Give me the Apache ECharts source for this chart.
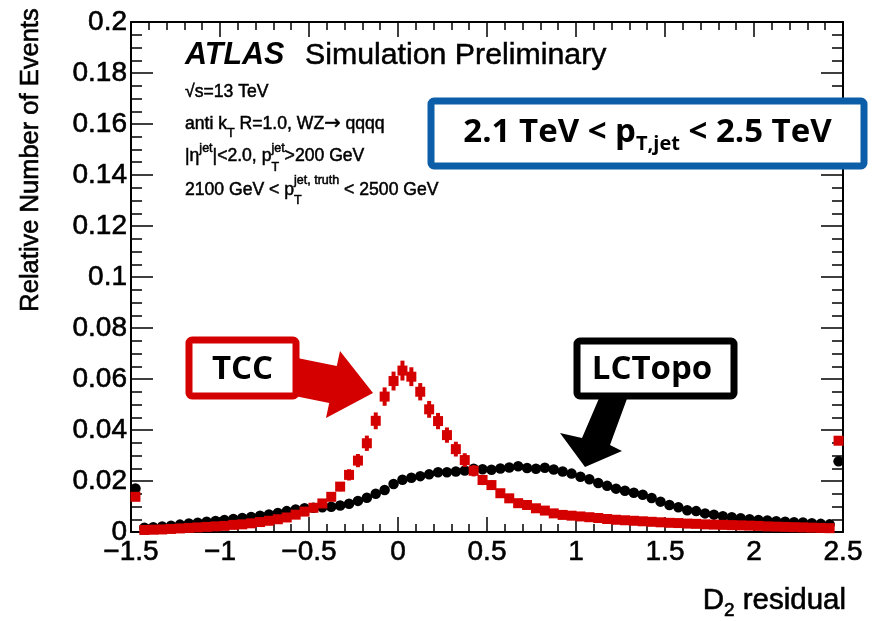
<!DOCTYPE html>
<html>
<head>
<meta charset="utf-8">
<script src="https://cdn.jsdelivr.net/npm/echarts@6/dist/echarts.min.js"></script>
<style>
  html, body { margin: 0; padding: 0; background: #fff; }
  #chart { width: 873px; height: 621px; }
</style>
</head>
<body>
<div id="chart"></div>
<script>
// D2 residual bin centres (bin width 0.05); first and last bins hold under/overflow
const binCenters = [
  -1.475,-1.425,-1.375,-1.325,-1.275,-1.225,-1.175,-1.125,-1.075,-1.025,
  -0.975,-0.925,-0.875,-0.825,-0.775,-0.725,-0.675,-0.625,-0.575,-0.525,
  -0.475,-0.425,-0.375,-0.325,-0.275,-0.225,-0.175,-0.125,-0.075,-0.025,
   0.025, 0.075, 0.125, 0.175, 0.225, 0.275, 0.325, 0.375, 0.425, 0.475,
   0.525, 0.575, 0.625, 0.675, 0.725, 0.775, 0.825, 0.875, 0.925, 0.975,
   1.025, 1.075, 1.125, 1.175, 1.225, 1.275, 1.325, 1.375, 1.425, 1.475,
   1.525, 1.575, 1.625, 1.675, 1.725, 1.775, 1.825, 1.875, 1.925, 1.975,
   2.025, 2.075, 2.125, 2.175, 2.225, 2.275, 2.325, 2.375, 2.425, 2.475
];

// TCC jets: relative number of events per bin
const tccValues = [
  0.0138,0.0008,0.0009,0.0010,0.0012,0.0014,0.0016,0.0018,0.0020,0.0022,
  0.0024,0.0028,0.0030,0.0034,0.0039,0.0044,0.0050,0.0057,0.0068,0.0080,
  0.0095,0.0112,0.0138,0.0178,0.0224,0.0280,0.0348,0.0436,0.0531,0.0592,
  0.0633,0.0609,0.0550,0.0481,0.0435,0.0380,0.0325,0.0282,0.0240,0.0204,
  0.0184,0.0152,0.0132,0.0113,0.0106,0.0093,0.0084,0.0073,0.0067,0.0064,
  0.0061,0.0058,0.0055,0.0051,0.0048,0.0046,0.0044,0.0042,0.0040,0.0038,
  0.0036,0.0035,0.0033,0.0032,0.0030,0.0029,0.0028,0.0027,0.0026,0.0025,
  0.0024,0.0022,0.0021,0.0020,0.0019,0.0018,0.0017,0.0016,0.0015,0.0358
];

// TCC statistical uncertainties per bin
const tccErrors = [
  0.0010,0.0006,0.0006,0.0006,0.0006,0.0006,0.0006,0.0006,0.0006,0.0006,
  0.0006,0.0007,0.0007,0.0007,0.0008,0.0008,0.0008,0.0009,0.0009,0.0010,
  0.0011,0.0012,0.0015,0.0018,0.0022,0.0026,0.0030,0.0033,0.0036,0.0037,
  0.0039,0.0037,0.0034,0.0033,0.0032,0.0030,0.0029,0.0027,0.0022,0.0020,
  0.0018,0.0016,0.0015,0.0014,0.0013,0.0012,0.0011,0.0010,0.0010,0.0010,
  0.0009,0.0009,0.0009,0.0009,0.0008,0.0008,0.0008,0.0008,0.0008,0.0008,
  0.0007,0.0007,0.0007,0.0007,0.0007,0.0007,0.0007,0.0006,0.0006,0.0006,
  0.0006,0.0006,0.0006,0.0006,0.0006,0.0006,0.0006,0.0006,0.0006,0.0015
];

// LCTopo jets: relative number of events per bin
const lcTopoValues = [
  0.0171,0.0017,0.0019,0.0022,0.0025,0.0029,0.0033,0.0036,0.0040,0.0043,
  0.0047,0.0051,0.0055,0.0059,0.0064,0.0069,0.0075,0.0082,0.0088,0.0093,
  0.0095,0.0097,0.0099,0.0104,0.0111,0.0122,0.0134,0.0150,0.0165,0.0188,
  0.0205,0.0213,0.0219,0.0226,0.0234,0.0234,0.0237,0.0241,0.0248,0.0246,
  0.0244,0.0249,0.0253,0.0258,0.0251,0.0248,0.0252,0.0245,0.0237,0.0229,
  0.0217,0.0207,0.0192,0.0181,0.0170,0.0162,0.0154,0.0146,0.0133,0.0119,
  0.0106,0.0097,0.0085,0.0082,0.0073,0.0068,0.0062,0.0058,0.0054,0.0050,
  0.0047,0.0045,0.0042,0.0040,0.0038,0.0037,0.0034,0.0032,0.0030,0.0277
];

const RED = '#d40000';
const BLUE = '#0d5ea8';
const SANS = '"Liberation Sans", Arial, Helvetica, sans-serif';
const BOXFONT = '"Open Sans", Lato, sans-serif';
const ARROWFONT = '"DejaVu Sans", sans-serif';

const measureCtx = document.createElement('canvas').getContext('2d');
function fontStr(size, weight, style, family) {
  return `${style || 'normal'} ${weight || 'normal'} ${size}px ${family}`;
}
function textWidth(str, font) {
  measureCtx.font = font;
  return measureCtx.measureText(str).width;
}

// Lays out a line of text with sub/superscripts; parts share one baseline.
// A part may be {t, size, dy} or {stack: [{t, size, dy}, ...]} (aligned at the same x).
function textRun(parts, x, baseline, opts) {
  const weight = opts.weight || 'normal';
  const fstyle = opts.style || 'normal';
  const color = opts.color || '#000';
  const heavy = opts.heavy || 0;
  const items = [];
  let cx = 0;
  for (const p of parts) {
    const group = p.stack ? p.stack : [p];
    let adv = 0;
    for (const q of group) {
      const family = q.family || opts.family || SANS;
      const font = fontStr(q.size, q.weight || weight, q.style || fstyle, family);
      items.push({ t: q.t, font, size: q.size, dx: cx, dy: q.dy || 0 });
      adv = Math.max(adv, textWidth(q.t, font));
    }
    cx += adv;
  }
  const total = cx;
  let x0 = x;
  if (opts.align === 'right') x0 = x - total;
  if (opts.align === 'center') x0 = x - total / 2;
  return items.map(it => ({
    type: 'text',
    z: 20,
    x: x0 + it.dx,
    y: baseline + it.dy - 0.35 * it.size,
    style: {
      text: it.t, font: it.font, fill: color,
      stroke: heavy ? color : null, lineWidth: heavy,
      align: 'left', textAlign: 'left',
      verticalAlign: 'middle', textVerticalAlign: 'middle'
    }
  }));
}

const chart = echarts.init(document.getElementById('chart'), null, { renderer: 'canvas' });

const minus = v => (v < 0 ? '\u2212' : '') + Math.abs(v);
const yFmt = v => String(+v.toFixed(3));

const xBase = {
  type: 'value', min: -1.5, max: 2.5, interval: 0.5,
  axisLine: { show: true, onZero: false, lineStyle: { color: '#000', width: 2 } },
  axisTick: { show: true, inside: true, length: 15, lineStyle: { color: '#000', width: 1.5 } },
  minorTick: { show: true, splitNumber: 5, length: 8, lineStyle: { color: '#000', width: 1.5 } },
  splitLine: { show: false }, minorSplitLine: { show: false }
};
const yBase = {
  type: 'value', min: 0, max: 0.2, interval: 0.02,
  axisLine: { show: true, onZero: false, lineStyle: { color: '#000', width: 2 } },
  axisTick: { show: true, inside: true, length: 22, lineStyle: { color: '#000', width: 1.5 } },
  minorTick: { show: true, splitNumber: 4, length: 11, lineStyle: { color: '#000', width: 1.5 } },
  splitLine: { show: false }, minorSplitLine: { show: false }
};

const small = 17.6, sub = 12.5;
const graphics = [
  // y-axis title
  {
    type: 'text', z: 20, x: 31, y: 160, rotation: Math.PI / 2,
    style: {
      text: 'Relative Number of Events', font: fontStr(25.5, 'normal', 'normal', SANS),
      fill: '#000', stroke: '#000', lineWidth: 0.6,
      align: 'center', textAlign: 'center',
      verticalAlign: 'middle', textVerticalAlign: 'middle'
    }
  },
  // x-axis title
  ...textRun([{ t: 'D', size: 29.5 }, { t: '2', size: 19, dy: 6 }, { t: ' residual', size: 29.5 }],
    846, 611, { align: 'right', heavy: 0.6 }),
  // experiment label
  ...textRun([{ t: 'ATLAS', size: 30.5, weight: 'bold', style: 'italic' }], 185, 66, {}),
  ...textRun([{ t: 'Simulation Preliminary', size: 30.3 }], 305, 66, { heavy: 0.5 }),
  ...textRun([{ t: '\u221As=13 TeV', size: small }], 185, 98, { heavy: 0.5 }),
  ...textRun([{ t: 'anti k', size: small }, { t: 'T', size: sub, dy: 7 },
    { t: ' R=1.0, WZ', size: small }, { t: '\u2192', size: small + 2, family: ARROWFONT },
    { t: ' qqqq', size: small }], 185, 130.5, { heavy: 0.5 }),
  ...textRun([{ t: '|\u03B7', size: small }, { t: 'jet', size: sub, dy: -9 },
    { t: '|<2.0, p', size: small },
    { stack: [{ t: 'jet', size: sub, dy: -9 }, { t: 'T', size: sub, dy: 10 }] },
    { t: '>200 GeV', size: small }], 185, 162, { heavy: 0.5 }),
  ...textRun([{ t: '2100 GeV < p', size: small },
    { stack: [{ t: 'jet, truth', size: sub, dy: -11 }, { t: 'T', size: sub, dy: 9 }] },
    { t: ' < 2500 GeV', size: small }], 185, 196, { heavy: 0.5 }),

  // pT range box
  {
    type: 'rect', z: 10,
    shape: { x: 431, y: 101, width: 433, height: 65, r: 3 },
    style: { fill: '#fff', stroke: BLUE, lineWidth: 7 }
  },
  ...textRun([{ t: '2.1 TeV < p', size: 33 }, { t: 'T,jet', size: 20, dy: 7 },
    { t: ' < 2.5 TeV', size: 33 }], 647.5, 144,
    { align: 'center', family: BOXFONT, weight: 'bold' }),

  // TCC label with arrow
  {
    type: 'polygon', z: 9,
    shape: { points: [[296, 357.7], [336.8, 365.9], [340, 351], [373, 393], [326, 418], [329.2, 403.1], [296, 396.3]] },
    style: { fill: RED }
  },
  {
    type: 'rect', z: 10,
    shape: { x: 189, y: 340, width: 107, height: 56, r: 3 },
    style: { fill: '#fff', stroke: RED, lineWidth: 7 }
  },
  {
    type: 'text', z: 20, x: 242.5, y: 370,
    style: {
      text: 'TCC', font: fontStr(33, 'bold', 'normal', BOXFONT), fill: '#000',
      align: 'center', textAlign: 'center', verticalAlign: 'middle', textVerticalAlign: 'middle'
    }
  },

  // LCTopo label with arrow
  {
    type: 'polygon', z: 9,
    shape: { points: [[600, 396], [628, 396], [610, 445], [622, 451], [585, 467], [560, 433], [582, 438]] },
    style: { fill: '#000' }
  },
  {
    type: 'rect', z: 10,
    shape: { x: 577, y: 341, width: 157, height: 55, r: 3 },
    style: { fill: '#fff', stroke: '#000', lineWidth: 7 }
  },
  {
    type: 'text', z: 20, x: 652, y: 370,
    style: {
      text: 'LCTopo', font: fontStr(33, 'bold', 'normal', BOXFONT), fill: '#000',
      align: 'center', textAlign: 'center', verticalAlign: 'middle', textVerticalAlign: 'middle'
    }
  }
];

const labelCommon = {
  show: true, color: '#000', fontFamily: SANS, fontSize: 28,
  textBorderColor: '#000', textBorderWidth: 0.6,
  showMinLabel: true, showMaxLabel: true
};

const option = {
  animation: false,
  backgroundColor: '#fff',
  grid: { left: 131, top: 22, width: 712, height: 510, show: false },
  xAxis: [
    Object.assign({}, xBase, {
      position: 'bottom',
      axisLabel: Object.assign({}, labelCommon, { formatter: minus, margin: 6 })
    }),
    Object.assign({}, xBase, { position: 'top', axisLabel: { show: false } })
  ],
  yAxis: [
    Object.assign({}, yBase, {
      position: 'left',
      axisLabel: Object.assign({}, labelCommon, { formatter: yFmt, margin: 4 })
    }),
    Object.assign({}, yBase, { position: 'right', axisLabel: { show: false } })
  ],
  series: [
    {
      name: 'LCTopo',
      type: 'scatter',
      xAxisIndex: 0, yAxisIndex: 0,
      symbol: 'circle', symbolSize: 10.5,
      itemStyle: { color: '#000', opacity: 1 },
      data: binCenters.map((x, i) => [x, lcTopoValues[i]]),
      clip: false, z: 2
    },
    {
      name: 'TCC',
      type: 'custom',
      xAxisIndex: 0, yAxisIndex: 0,
      data: binCenters.map((x, i) => [x, tccValues[i], tccErrors[i]]),
      encode: { x: 0, y: 1 },
      clip: false, z: 3,
      renderItem: (params, api) => {
        const x = api.value(0), y = api.value(1), e = api.value(2);
        const c = api.coord([x, y]);
        const hi = api.coord([x, y + e]);
        const lo = api.coord([x, y - e]);
        return {
          type: 'group',
          children: [
            { type: 'line', shape: { x1: c[0], y1: hi[1], x2: c[0], y2: lo[1] },
              style: { stroke: RED, lineWidth: 4 } },
            { type: 'rect', shape: { x: c[0] - 5, y: c[1] - 5, width: 10, height: 10 },
              style: { fill: RED } }
          ]
        };
      }
    }
  ],
  graphic: { elements: graphics }
};

chart.setOption(option);
</script>
</body>
</html>
